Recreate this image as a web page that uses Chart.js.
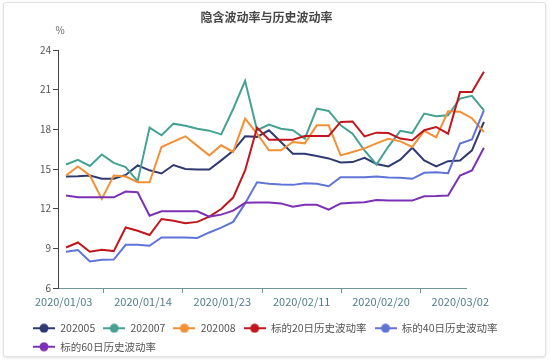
<!DOCTYPE html>
<html>
<head>
<meta charset="utf-8">
<script src="https://cdn.jsdelivr.net/npm/chart.js@4"></script>
<style>
    body { margin: 0; background: #fff; }
    #wrap { position: relative; width: 550px; height: 362px; }
    #card {
        position: absolute; left: 3px; top: 2px; width: 541px; height: 353px;
        border: 1px solid #e2e2e2; border-radius: 3px;
        box-shadow: 0 1px 3px rgba(0, 0, 0, 0.12); background: #fff;
    }
    #chart { position: absolute; left: 0; top: 0; }
</style>
</head>
<body>
<div id="wrap">
    <div id="card"></div>
    <canvas id="chart" width="550" height="362"></canvas>
</div>
<script>
// trading days on the category axis
const dates = ['2020/01/03', '2020/01/06', '2020/01/07', '2020/01/08', '2020/01/09', '2020/01/10',
    '2020/01/13', '2020/01/14', '2020/01/15', '2020/01/16', '2020/01/17', '2020/01/20',
    '2020/01/21', '2020/01/22', '2020/01/23', '2020/02/03', '2020/02/04', '2020/02/05',
    '2020/02/06', '2020/02/07', '2020/02/10', '2020/02/11', '2020/02/12', '2020/02/13',
    '2020/02/14', '2020/02/17', '2020/02/18', '2020/02/19', '2020/02/20', '2020/02/21',
    '2020/02/24', '2020/02/25', '2020/02/26', '2020/02/27', '2020/02/28', '2020/03/02'];

const iv202005 = [14.43, 14.45, 14.51, 14.26, 14.26, 14.55, 15.27, 14.9, 14.66, 15.3, 15.0, 14.96,
    14.96, 15.65, 16.37, 17.47, 17.43, 17.93, 17.04, 16.16, 16.16, 15.99, 15.8, 15.5,
    15.52, 15.84, 15.38, 15.19, 15.7, 16.61, 15.65, 15.19, 15.59, 15.65, 16.41, 18.56];
const iv202007 = [15.34, 15.7, 15.23, 16.1, 15.46, 15.15, 14.08, 18.13, 17.55, 18.43, 18.27, 18.05,
    17.9, 17.62, 19.54, 21.67, 17.93, 18.36, 18.05, 17.93, 17.3, 19.57, 19.39, 18.3,
    17.67, 16.4, 15.34, 16.7, 17.89, 17.72, 19.19, 18.99, 19.06, 20.33, 20.53, 19.44];
const iv202008 = [14.51, 15.19, 14.51, 12.74, 14.51, 14.43, 14.0, 14.0, 16.66, 17.07, 17.47, 16.75,
    16.03, 16.79, 16.29, 18.81, 17.67, 16.41, 16.41, 17.04, 16.94, 18.3, 18.3, 16.03,
    16.29, 16.56, 16.94, 17.28, 17.09, 16.67, 17.89, 17.39, 19.37, 19.33, 18.84, 17.8];
const hv20 = [9.06, 9.44, 8.74, 8.89, 8.79, 10.58, 10.33, 10.01, 11.22, 11.09, 10.89, 11.0,
    11.4, 11.97, 12.84, 14.89, 18.13, 17.22, 17.22, 17.22, 17.5, 17.5, 17.5, 18.56,
    18.6, 17.47, 17.75, 17.72, 17.3, 17.17, 17.93, 18.18, 17.67, 20.83, 20.83, 22.35];
const hv40 = [8.74, 8.87, 8.0, 8.13, 8.15, 9.27, 9.27, 9.19, 9.82, 9.82, 9.82, 9.78,
    10.2, 10.56, 11.0, 12.4, 14.0, 13.88, 13.83, 13.8, 13.93, 13.88, 13.7, 14.38,
    14.38, 14.38, 14.43, 14.36, 14.34, 14.26, 14.71, 14.76, 14.68, 16.92, 17.24, 19.44];
const hv60 = [12.99, 12.86, 12.86, 12.86, 12.86, 13.3, 13.24, 11.47, 11.8, 11.8, 11.8, 11.8,
    11.4, 11.55, 11.85, 12.44, 12.46, 12.46, 12.4, 12.15, 12.3, 12.3, 11.93, 12.4,
    12.44, 12.48, 12.65, 12.61, 12.61, 12.61, 12.94, 12.95, 12.99, 14.5, 14.89, 16.61];

const seriesNames = ['202005', '202007', '202008', '标的20日历史波动率', '标的40日历史波动率', '标的60日历史波动率'];
const seriesData = [iv202005, iv202007, iv202008, hv20, hv40, hv60];
const seriesColors = ['#2f3a72', '#45a292', '#f39035', '#c1161d', '#5f74d6', '#7c30b4'];

const yTicks = [6, 9, 12, 15, 18, 21, 24];
const labelEvery = 7;
const xTickMarks = [4, 11, 18, 25, 32];

// in the original the lines run a bit wider than the date axis
const dataMin = -0.67;
const dataMax = 33.5;

const FONT = '"Noto Sans CJK SC", "Noto Sans", sans-serif';

// legend icon: short line with a dot in the middle
function legendIcon(color) {
    const c = document.createElement('canvas');
    c.width = 22;
    c.height = 10;
    const g = c.getContext('2d');
    g.strokeStyle = color;
    g.lineWidth = 2;
    g.beginPath();
    g.moveTo(0, 5);
    g.lineTo(22, 5);
    g.stroke();
    g.fillStyle = color;
    g.beginPath();
    g.arc(11, 5, 4.5, 0, Math.PI * 2);
    g.fill();
    return c;
}

// draws the "%" unit above the y axis
const unitLabel = {
    id: 'unitLabel',
    afterDraw(chart) {
        const { ctx, chartArea } = chart;
        ctx.save();
        ctx.font = '10px ' + FONT;
        ctx.fillStyle = '#666';
        ctx.textAlign = 'center';
        ctx.textBaseline = 'middle';
        ctx.fillText('%', chartArea.left + 2, chartArea.top - 20);
        ctx.restore();
    }
};

const datasets = seriesNames.map((name, i) => ({
    label: name,
    data: seriesData[i].map((v, k) => ({ x: k, y: v })),
    xAxisID: 'xd',
    yAxisID: 'y',
    borderColor: seriesColors[i],
    backgroundColor: seriesColors[i],
    borderWidth: 2,
    pointRadius: 0,
    pointHoverRadius: 0,
    pointStyle: legendIcon(seriesColors[i]),
    tension: 0,
    fill: false,
    clip: false,
    order: seriesNames.length - i
}));

const ctx = document.getElementById('chart').getContext('2d');
const chart = new Chart(ctx, {
    type: 'line',
    data: { labels: dates, datasets: datasets },
    options: {
        responsive: false,
        animation: false,
        devicePixelRatio: 1,
        layout: { padding: { left: 25, right: 42, top: 0, bottom: 0 } },
        plugins: {
            title: {
                display: true,
                text: '隐含波动率与历史波动率',
                color: '#464646',
                font: { family: FONT, size: 12, weight: 'bold' },
                padding: { top: 10, bottom: 25.6 }
            },
            legend: {
                position: 'bottom',
                align: 'start',
                labels: {
                    usePointStyle: true,
                    pointStyleWidth: 22,
                    padding: 8,
                    color: '#555',
                    font: { family: FONT, size: 10.5 },
                    sort: (a, b) => a.datasetIndex - b.datasetIndex
                }
            },
            tooltip: { enabled: false }
        },
        scales: {
            x: {
                type: 'category',
                offset: true,
                afterFit: s => { s.height = 27; },
                border: { display: true, color: '#6f949c', width: 1 },
                grid: {
                    offset: true,
                    drawOnChartArea: false,
                    tickLength: 5,
                    color: c => (xTickMarks.includes(c.index) ? '#6f949c' : 'rgba(0,0,0,0)')
                },
                ticks: {
                    autoSkip: false,
                    maxRotation: 0,
                    padding: 2,
                    color: '#4f7f8b',
                    font: { family: FONT, size: 11 },
                    callback: (v, i) => (i % labelEvery === 0 ? dates[i] : '')
                }
            },
            xd: {
                type: 'linear',
                display: false,
                bounds: 'data',
                // range set here (not as min/max) so every point is still drawn past the edge
                afterDataLimits: s => { s.min = dataMin; s.max = dataMax; }
            },
            y: {
                type: 'linear',
                position: 'left',
                min: yTicks[0],
                max: yTicks[yTicks.length - 1],
                afterFit: s => { s.width = 33; },
                afterBuildTicks: s => { s.ticks = yTicks.map(v => ({ value: v })); },
                border: { display: true, color: '#444', width: 1 },
                grid: { drawOnChartArea: false, tickLength: 5, color: '#444' },
                ticks: {
                    padding: 2,
                    color: '#555',
                    font: { family: FONT, size: 10 }
                }
            },
            yr: {
                type: 'linear',
                position: 'right',
                afterFit: s => { s.width = 42; },
                border: { display: false },
                grid: { display: false },
                ticks: { display: false }
            }
        }
    },
    plugins: [unitLabel]
});
</script>
</body>
</html>
